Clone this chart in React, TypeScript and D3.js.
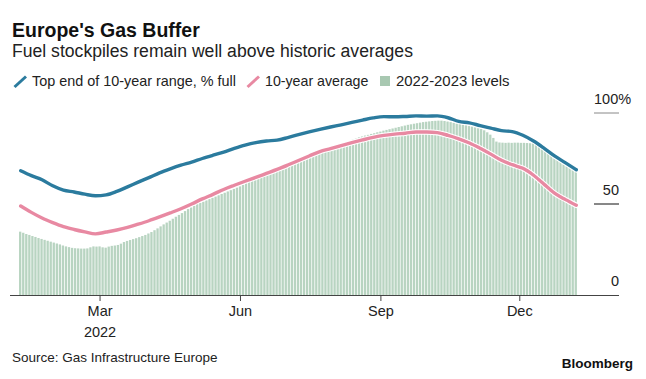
import React from "react";
import * as d3 from "d3";

const W = 646;
const H = 379;

// Top end of 10-year range (% full), weekly from 2022-01-08
const topEndValues = [
  68.3, 65.6, 63.3, 60.0, 57.6, 56.6, 55.4, 54.5, 55.0, 56.9, 59.4, 62.0, 64.5, 67.1,
  69.3, 71.3, 73.0, 75.0, 76.8, 78.5, 80.5, 82.3, 83.7, 84.6, 85.1, 86.5, 88.1, 89.6,
  91.0, 92.3, 93.5, 94.8, 96.1, 97.3, 98.0, 97.9, 98.1, 98.4, 98.3, 98.4, 97.4, 95.4,
  94.6, 93.1, 91.7, 90.3, 89.8, 87.8, 84.6, 80.6, 76.3, 72.6, 68.8,
];

// 10-year average (% full), weekly from 2022-01-08
const avgValues = [
  48.9, 45.4, 42.3, 39.8, 37.6, 36.0, 34.7, 33.6, 34.6, 35.7, 37.1, 38.9, 40.8, 42.9,
  45.1, 47.4, 50.0, 52.8, 55.3, 58.0, 60.3, 62.5, 64.6, 66.8, 69.0, 71.4, 73.9, 76.4,
  78.8, 80.4, 82.1, 83.7, 85.2, 86.6, 87.7, 88.4, 88.9, 89.6, 89.6, 89.2, 87.7, 85.8,
  83.5, 80.6, 77.4, 74.0, 71.6, 69.6, 65.8, 60.8, 55.8, 52.4, 49.3,
];

// 2022-2023 levels (% full), every 2 days from 2022-01-08
const levelValues = [
  34.8, 34.2, 33.5, 33.0, 32.4, 31.9, 31.3, 30.8, 30.3, 29.8, 29.3, 28.8, 28.3, 27.8,
  27.2, 26.7, 26.3, 25.9, 25.7, 25.6, 25.5, 25.5, 25.6, 26.2, 26.7, 26.6, 26.7, 26.2,
  26.0, 26.6, 27.0, 27.2, 27.5, 28.2, 29.1, 29.7, 30.2, 30.7, 31.2, 31.8, 32.4, 33.0,
  33.8, 34.6, 35.6, 36.6, 37.7, 38.8, 39.8, 40.8, 41.9, 43.0, 44.0, 45.0, 46.1, 47.2,
  48.1, 49.0, 49.9, 50.6, 51.3, 52.0, 52.7, 53.4, 54.1, 54.8, 55.5, 56.2, 56.9, 57.6,
  58.3, 59.0, 59.7, 60.5, 61.4, 62.2, 63.1, 63.9, 64.8, 65.5, 66.1, 66.7, 67.3, 67.9,
  68.5, 69.1, 69.7, 70.4, 71.0, 71.7, 72.3, 73.0, 73.8, 74.6, 75.4, 76.3, 77.1, 78.0,
  78.8, 79.4, 79.9, 80.5, 81.0, 81.6, 82.1, 82.7, 83.3, 84.0, 84.6, 85.3, 85.9, 86.6,
  87.1, 87.6, 88.0, 88.5, 88.9, 89.4, 89.8, 90.3, 90.7, 91.1, 91.5, 91.9, 92.3, 92.7,
  93.1, 93.5, 93.8, 94.1, 94.4, 94.7, 95.0, 95.2, 95.4, 95.6, 95.7, 95.8, 95.8, 95.6,
  95.3, 95.0, 94.6, 94.2, 93.9, 93.5, 93.2, 92.8, 92.5, 92.1, 91.6, 91.2, 90.5, 89.4,
  88.1, 86.3, 84.3, 83.8, 83.7, 83.6, 83.7, 83.6, 83.7, 83.7, 83.6, 83.6, 83.5, 83.4,
  83.3, 82.9, 82.3, 81.6, 80.3, 78.9, 77.4, 76.0, 74.6, 73.2, 71.9, 70.8, 69.9, 69.2,
  68.7,
];

const startDate = new Date(2022, 0, 8);
const xTickDates = [new Date(2022, 2, 1), new Date(2022, 5, 1), new Date(2022, 8, 1), new Date(2022, 11, 1)];
const xTickLabels = ["Mar", "Jun", "Sep", "Dec"];
const yTicks = [0, 50, 100];
const yTickLabels = ["0", "50", "100%"];

const BLUE = "#2b7b9e";
const PINK = "#e889a2";
const GREEN = "#b8d4c1";
const FONT = "'Liberation Sans', Arial, Helvetica, sans-serif";

export default function App() {
  const x = d3
    .scaleTime()
    .domain([new Date(2022, 0, 1), new Date(2023, 1, 4)])
    .range([10, 619]);
  const y = d3.scaleLinear().domain([0, 100]).range([295, 113]);

  const weekly = (i: number) => d3.timeDay.offset(startDate, 7 * i);
  const biDaily = (i: number) => d3.timeDay.offset(startDate, 2 * i);

  const line = d3
    .line<number>()
    .x((_, i) => x(weekly(i)))
    .y((v) => y(v))
    .curve(d3.curveMonotoneX);

  const barW = 2.3;

  return (
    <svg
      width={W}
      height={H}
      style={{ position: "absolute", left: 0, top: 0, background: "#fff" }}
      fontFamily={FONT}
    >
      <rect x={0} y={0} width={W} height={H} fill="#fff" />
      <text x={12} y={37} fontSize={19.5} fontWeight="bold" fill="#111">
        Europe's Gas Buffer
      </text>
      <text x={12} y={57} fontSize={17.6} fill="#222">
        Fuel stockpiles remain well above historic averages
      </text>

      {/* legend */}
      <line x1={14.5} y1={87} x2={26} y2={76.5} stroke={BLUE} strokeWidth={3} />
      <text x={32} y={86} fontSize={14.4} fill="#222">
        Top end of 10-year range, % full
      </text>
      <line x1={247.5} y1={87} x2={259} y2={76.5} stroke={PINK} strokeWidth={3} />
      <text x={265} y={86} fontSize={14.2} fill="#222">
        10-year average
      </text>
      <rect x={380} y={76} width={10} height={10} fill="#a8c8b1" />
      <text x={396} y={86} fontSize={14.9} fill="#222">
        2022-2023 levels
      </text>

      {/* bars */}
      <g>
        {levelValues.map((v, i) => (
          <rect
            key={i}
            x={x(biDaily(i)) - barW / 2 - 0.5}
            y={y(v)}
            width={barW}
            height={y(0) - y(v)}
            fill={GREEN}
          />
        ))}
      </g>

      {/* lines with white halo */}
      <path d={line(avgValues) || ""} fill="none" stroke="#fff" strokeWidth={5.5} strokeLinecap="round" strokeLinejoin="round" />
      <path d={line(avgValues) || ""} fill="none" stroke={PINK} strokeWidth={3.4} strokeLinecap="round" strokeLinejoin="round" />
      <path d={line(topEndValues) || ""} fill="none" stroke="#fff" strokeWidth={5.5} strokeLinecap="round" strokeLinejoin="round" />
      <path d={line(topEndValues) || ""} fill="none" stroke={BLUE} strokeWidth={3.4} strokeLinecap="round" strokeLinejoin="round" />

      {/* right axis */}
      {yTicks.map((t, i) => (
        <g key={t}>
          {t !== 0 && (
            <line
              x1={594}
              x2={619}
              y1={y(t)}
              y2={y(t)}
              stroke={t === 100 ? "#888" : "#111"}
              strokeWidth={1}
            />
          )}
          <text
            x={t === 100 ? 594 : 619}
            y={y(t) - 9}
            fontSize={14.5}
            textAnchor={t === 100 ? "start" : "end"}
            fill="#222"
          >
            {yTickLabels[i]}
          </text>
        </g>
      ))}

      {/* x axis */}
      <line x1={10} x2={619} y1={295.5} y2={295.5} stroke="#444" strokeWidth={1} />
      {xTickDates.map((d, i) => (
        <g key={i}>
          <line x1={x(d)} x2={x(d)} y1={295} y2={301} stroke="#444" strokeWidth={1} />
          <text x={x(d)} y={316} fontSize={14.5} textAnchor="middle" fill="#222">
            {xTickLabels[i]}
          </text>
          {i === 0 && (
            <text x={x(d)} y={337} fontSize={14.5} textAnchor="middle" fill="#222">
              2022
            </text>
          )}
        </g>
      ))}

      <text x={12} y={362} fontSize={13.5} fill="#222">
        Source: Gas Infrastructure Europe
      </text>
      <text x={633} y={368} fontSize={13.5} fontWeight="bold" textAnchor="end" fill="#111">
        Bloomberg
      </text>
    </svg>
  );
}
